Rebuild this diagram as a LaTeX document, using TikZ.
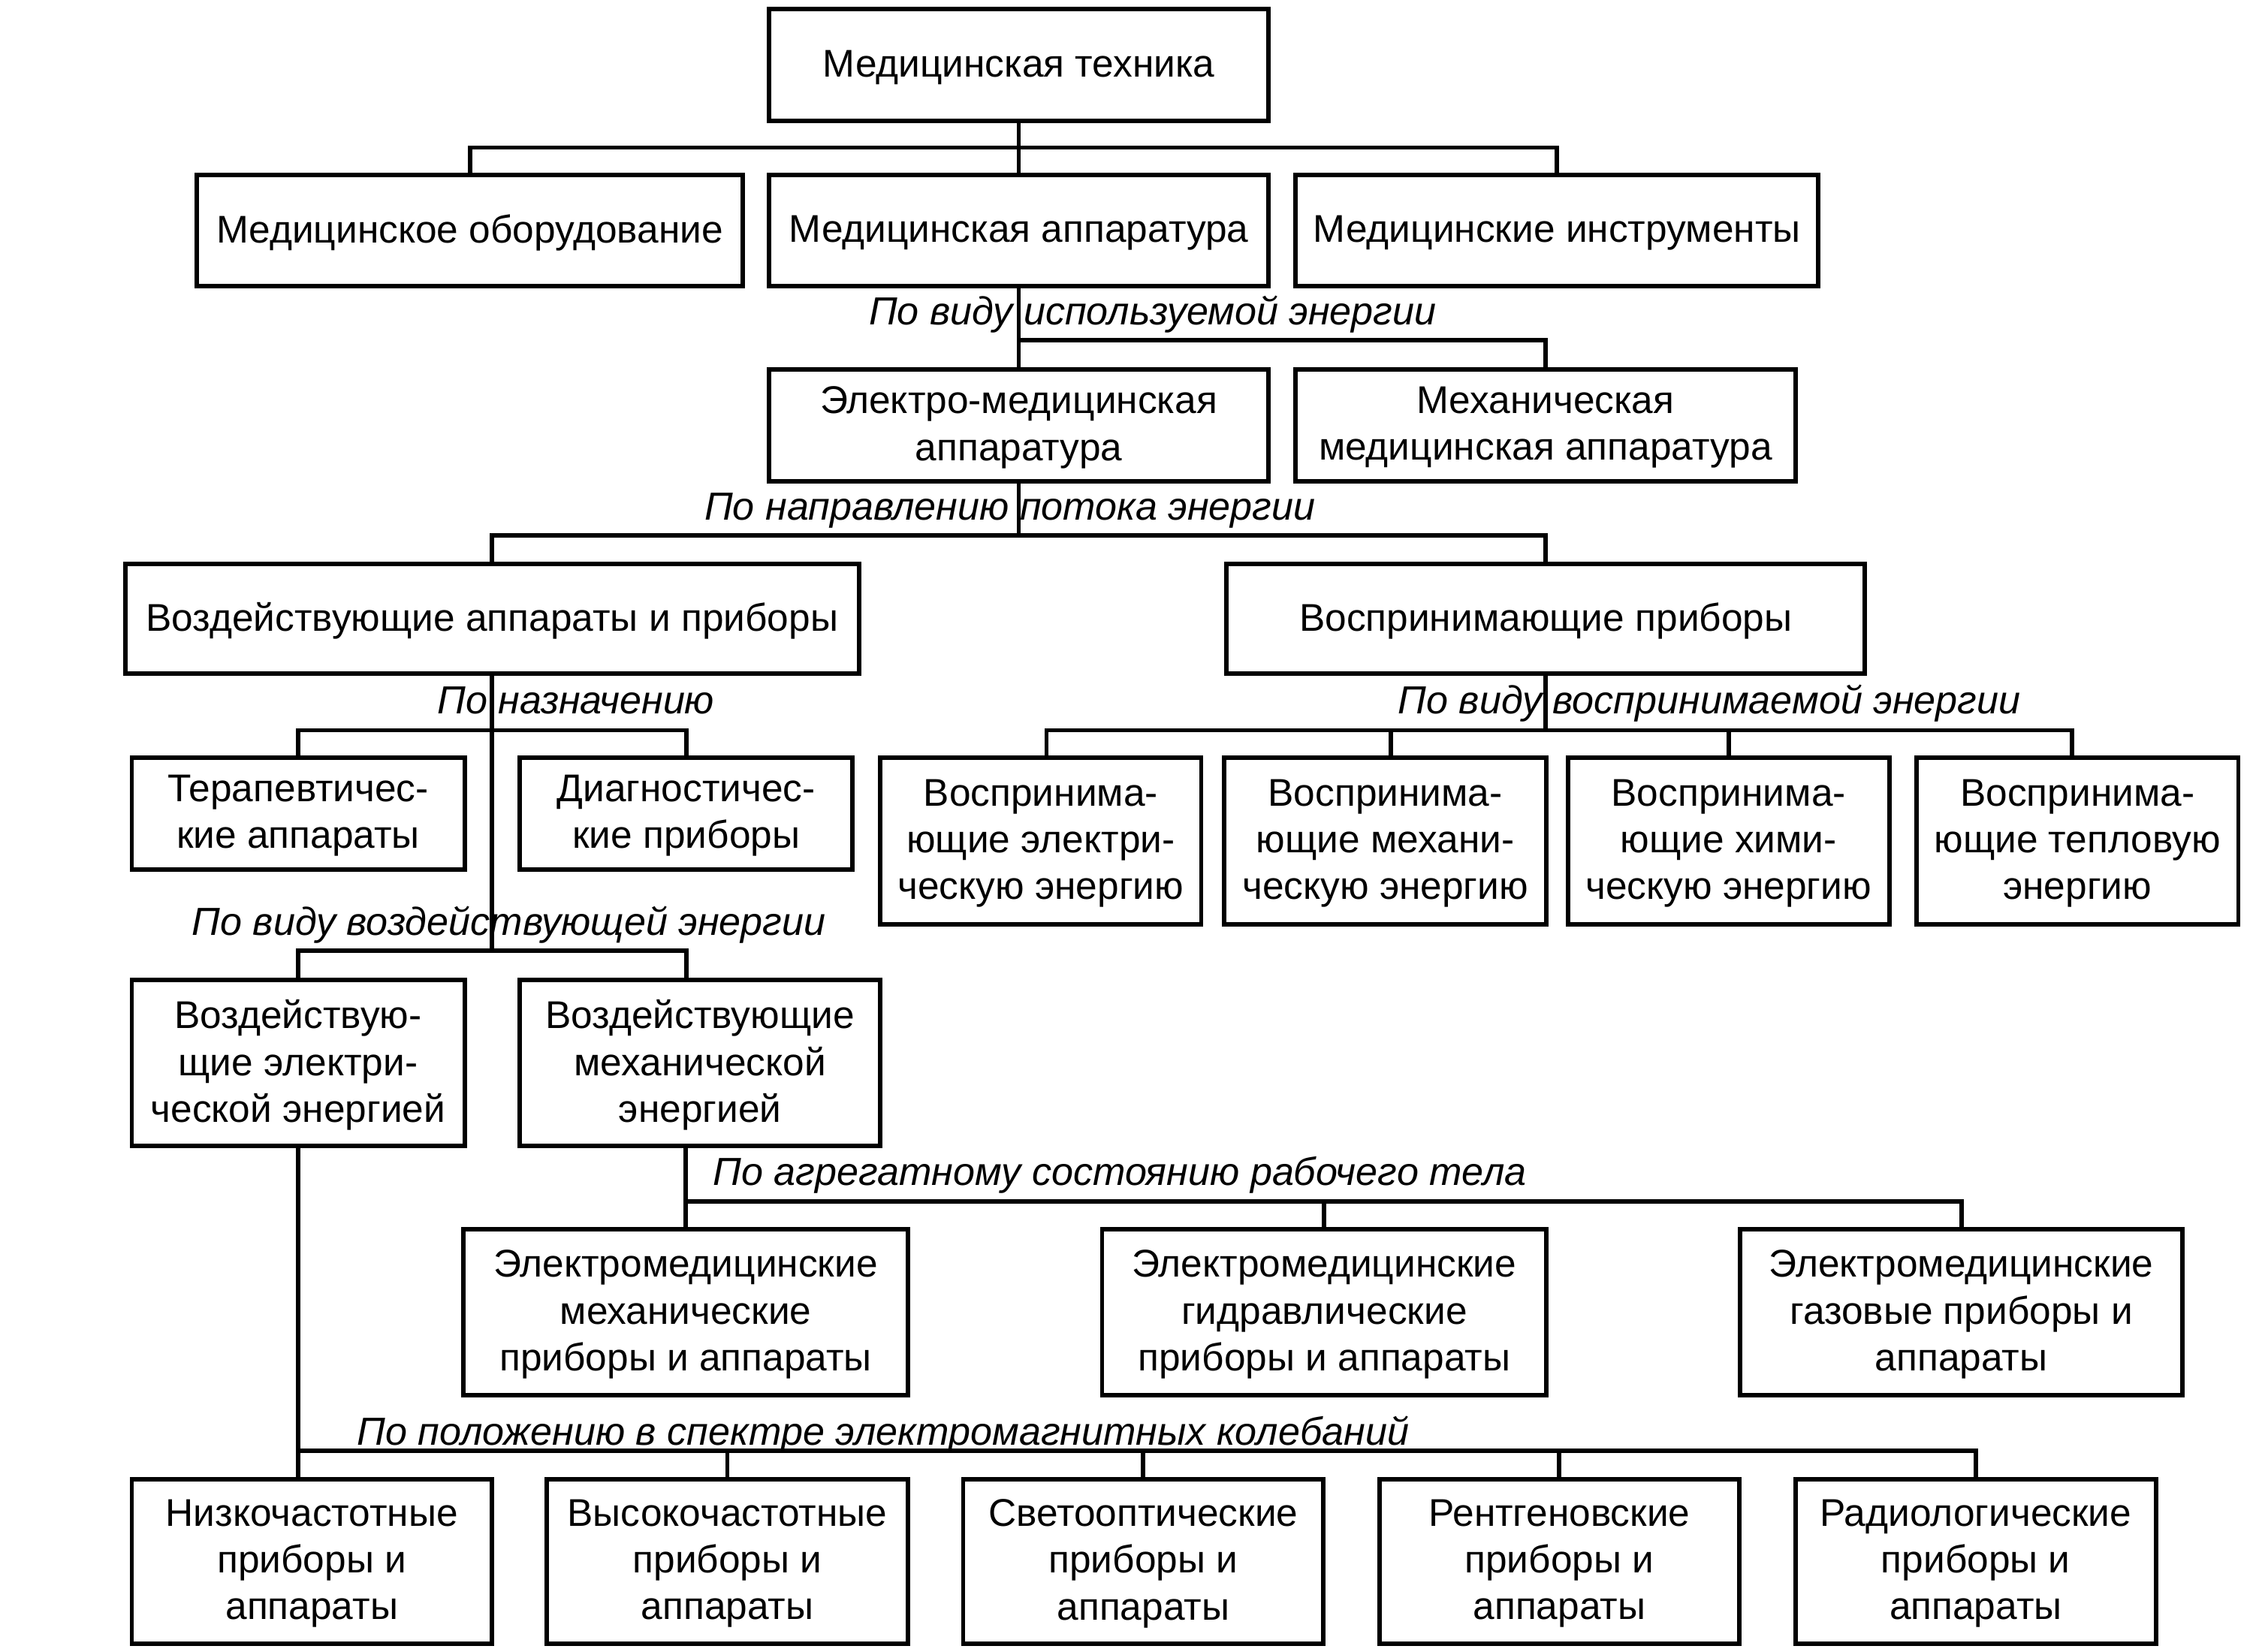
\documentclass[tikz,border=0pt]{standalone}
\usepackage{fontspec}
\setmainfont{Liberation Sans}
\newcommand\mybox[6]{\node[cbox, minimum width={(#4-#2)*0.02cm}, minimum height={(#5-#3)*0.02cm}] (#1) at ({(#2+#4)/2},{(#3+#5)/2}) {};
  \node[btxt] (#1t) at ([yshift=-0.032cm]#1.center) {#6};}
\begin{document}
\begin{tikzpicture}[x=0.02cm,y=-0.02cm,
  cbox/.style={draw, line width=1.75pt, inner sep=0pt},
  btxt/.style={inner sep=0pt, align=center, font=\fontsize{15.3}{18.5}\selectfont},
  lbl/.style={inner sep=0pt, font=\fontsize{15.5}{18.5}\selectfont\itshape},
  conn/.style={line width=1.75pt}]
\useasboundingbox (0,0) rectangle (1568,1149.5);
% boxes
\mybox{top}{535}{6.5}{883}{84}{Медицинская техника}
\mybox{A}{137}{122}{517}{199}{Медицинское оборудование}
\mybox{B}{535}{122}{883}{199}{Медицинская аппаратура}
\mybox{C}{901.7}{122}{1265.5}{199}{Медицинские инструменты}
\mybox{D}{535}{257}{883}{335}{Электро-медицинская\\аппаратура}
\mybox{E}{901.7}{257}{1249.5}{335}{Механическая\\медицинская аппаратура}
\mybox{F}{87.3}{392.5}{597.7}{469}{Воздействующие аппараты и приборы}
\mybox{G}{853.7}{392.5}{1297.8}{469}{Воспринимающие приборы}
\mybox{H}{91.7}{527.4}{323.3}{605.1}{Терапевтичес-\\кие аппараты}
\mybox{I}{361.7}{527.4}{593.4}{605.1}{Диагностичес-\\кие приборы}
\mybox{L}{612.7}{527.4}{836}{643.5}{Воспринима-\\ющие электри-\\ческую энергию}
\mybox{M}{852}{527.4}{1076.2}{643.5}{Воспринима-\\ющие механи-\\ческую энергию}
\mybox{N}{1091.2}{527.4}{1314.8}{643.5}{Воспринима-\\ющие хими-\\ческую энергию}
\mybox{O}{1333.8}{527.4}{1557.8}{643.5}{Воспринима-\\ющие тепловую\\энергию}
\mybox{J}{91.7}{681.9}{323.3}{797.6}{Воздействую-\\щие электри-\\ческой энергией}
\mybox{K}{361.7}{681.9}{612.7}{797.6}{Воздействующие\\механической\\энергией}
\mybox{P}{322.7}{855.5}{631.7}{971.1}{Электромедицинские\\механические\\приборы и аппараты}
\mybox{Q}{767}{855.5}{1076.2}{971.1}{Электромедицинские\\гидравлические\\приборы и аппараты}
\mybox{R}{1211.2}{855.5}{1518.8}{971.1}{Электромедицинские\\газовые приборы и\\аппараты}
\mybox{S}{91.7}{1029.5}{342.3}{1143.9}{Низкочастотные\\приборы и\\аппараты}
\mybox{T}{380.7}{1029.5}{631.7}{1143.9}{Высокочастотные\\приборы и\\аппараты}
\mybox{U}{670.3}{1029.5}{921}{1143.9}{Светооптические\\приборы и\\аппараты}
\mybox{V}{960}{1029.5}{1210.5}{1143.9}{Рентгеновские\\приборы и\\аппараты}
\mybox{W}{1249.5}{1029.5}{1500.5}{1143.9}{Радиологические\\приборы и\\аппараты}
% labels
\node[lbl, anchor=base west] (t1) at (604.4,226.1) {По виду используемой энергии};
\node[lbl, anchor=base west] (t2) at (490,361.7) {По направлению потока энергии};
\node[lbl, anchor=base west] (t3) at (304,496.9) {По назначению};
\node[lbl, anchor=base west] (t4) at (972.7,496.9) {По виду воспринимаемой энергии};
\node[lbl, anchor=base west] (t5) at (133.3,650.8) {По виду воздействующей энергии};
\node[lbl, anchor=base west] (t6) at (496,825) {По агрегатному состоянию рабочего тела};
\node[lbl, anchor=base west] (t7) at (248.3,1005.8) {По положению в спектре электромагнитных колебаний};
% bus coordinates
\coordinate (b1) at (0,102.7);
\coordinate (b2) at (0,237);
\coordinate (b3) at (0,372.7);
\coordinate (b4) at (0,508.3);
\coordinate (b5) at (0,661.8);
\coordinate (b6) at (0,836.4);
\coordinate (b7) at (0,1010);
% connectors
\draw[conn] (top.south) -- (B.north);
\draw[conn] (A.north) -- (A.north |- b1) -| (C.north);
\draw[conn] (B.south) -- (D.north);
\draw[conn] (D.north |- b2) -| (E.north);
\draw[conn] (D.south) -- (D.south |- b3);
\draw[conn] (F.north) -- (F.north |- b3) -| (G.north);
\draw[conn] (F.south) -- (F.south |- b5);
\draw[conn] (H.north) -- (H.north |- b4) -| (I.north);
\draw[conn] (J.north) -- (J.north |- b5) -| (I.north |- K.north);
\draw[conn] (G.south) -- (G.south |- b4);
\coordinate (dL) at ([xshift=0.08cm]L.north);
\coordinate (dM) at ([xshift=0.074cm]M.north);
\coordinate (dO) at ([xshift=-0.072cm]O.north);
\draw[conn] (dL) -- (dL |- b4) -| (dO);
\draw[conn] (dM) -- (dM |- b4);
\draw[conn] (N.north) -- (N.north |- b4);
\draw[conn] (P.north |- K.south) -- (P.north);
\draw[conn] (P.north |- b6) -| (R.north);
\draw[conn] (Q.north) -- (Q.north |- b6);
\draw[conn] (J.south) -- (J.south |- S.north);
\draw[conn] (J.south |- b7) -| (W.north);
\draw[conn] (T.north) -- (T.north |- b7);
\draw[conn] (U.north) -- (U.north |- b7);
\draw[conn] (V.north) -- (V.north |- b7);
\end{tikzpicture}
\end{document}
